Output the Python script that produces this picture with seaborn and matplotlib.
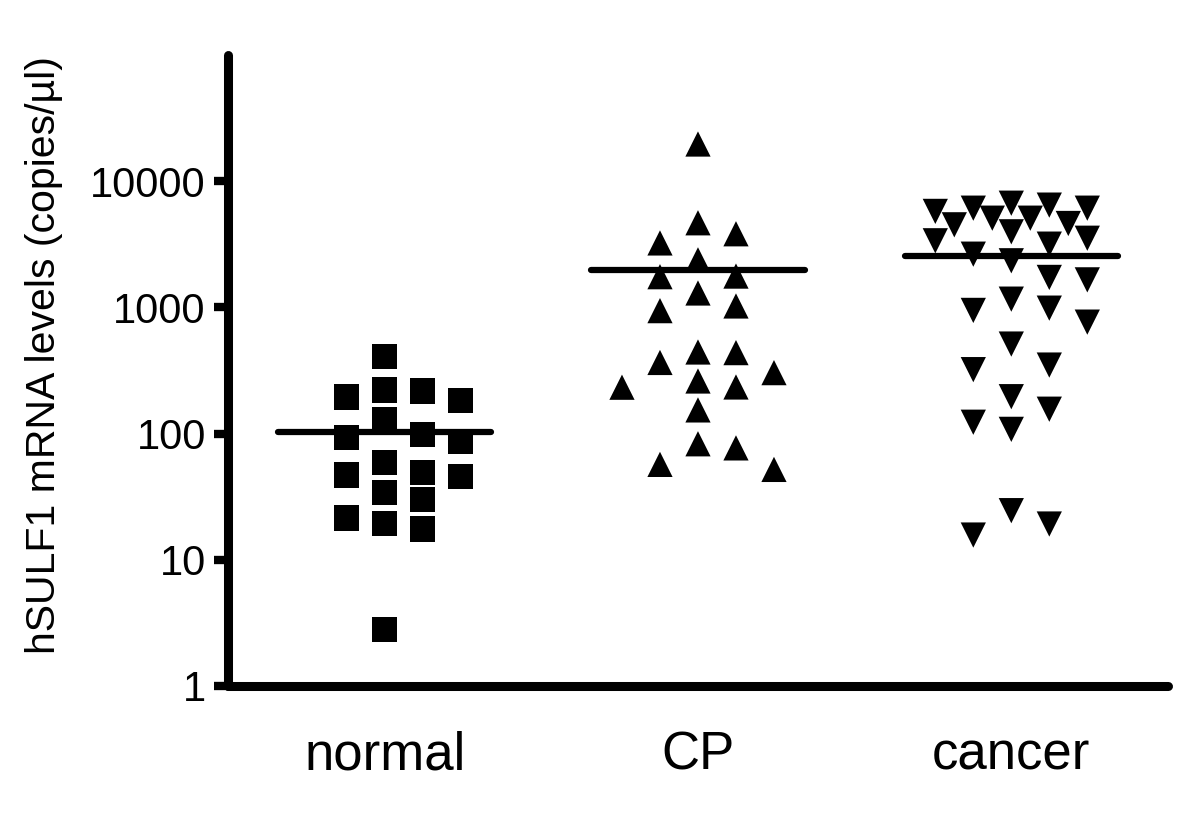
import matplotlib
matplotlib.use("Agg")
import matplotlib.pyplot as plt
from matplotlib.ticker import FixedLocator, NullLocator
import numpy as np
import pandas as pd
import seaborn as sns

# values (copies/ul)
groups = ["normal", "CP", "cancer"]
normal_vals = [407, 221, 217, 195, 182, 130, 99, 93, 87, 59, 49, 47, 46,
               34, 30, 21.4, 19.4, 17.5, 2.8]
cp_vals = [19700, 4680, 3830, 3240, 2380, 1770, 1750, 1300, 1026, 942,
           443, 438, 366, 304, 261, 234, 233, 154, 83, 77, 57, 52]
cancer_vals = [6690, 6460, 6110, 6110, 5760, 5090, 5090, 4620, 4510, 3970,
               3530, 3370, 3170, 2640, 2340, 1727, 1652, 1162, 986, 946,
               764, 512, 349, 321, 196, 156, 123, 108, 24.5, 19.2, 15.7]
y_ticks = [1, 10, 100, 1000, 10000]
y_tick_labels = ["1", "10", "100", "1000", "10000"]
y_label = "hSULF1 mRNA levels (copies/µl)"

sns.set_style("ticks")
plt.rcParams["font.family"] = ["Liberation Sans", "DejaVu Sans"]
for key in ["text.color", "axes.labelcolor", "xtick.color", "ytick.color", "axes.edgecolor"]:
    plt.rcParams[key] = "black"

fig = plt.figure(figsize=(12, 8.18), dpi=100)
ax = fig.add_axes([0.19, 0.1614, 0.7833, 0.7714])
ax.set_yscale("log")
ax.set_xlim(-0.5, 2.5)
ax.set_ylim(1, 1e5)


def spread(vals, centre, size_px=26, step_px=19):
    # Prism-like column layout: top value first, each point takes the
    # slot around the centre that overlaps the least with earlier points
    slots = [0, 2, -2, 4, -4, 1, -1, 3, -3]
    cx = ax.transData.transform((centre, 1))[0]
    pts = np.column_stack([np.full(len(vals), centre), vals])
    ys = ax.transData.transform(pts)[:, 1]
    placed = []
    xs = np.empty(len(vals))
    for i in np.argsort(ys)[::-1]:
        best, best_cost = 0, None
        for s in slots:
            px = cx + s * step_px
            cost = sum(max(0, size_px - abs(px - qx)) * max(0, size_px - abs(ys[i] - qy))
                       for qx, qy in placed)
            if best_cost is None or cost < best_cost:
                best, best_cost = s, cost
        px = cx + best * step_px
        placed.append((px, ys[i]))
        xs[i] = ax.transData.inverted().transform((px, ys[i]))[0]
    return xs


frames = []
for i, (g, vals) in enumerate(zip(groups, [normal_vals, cp_vals, cancer_vals])):
    frames.append(pd.DataFrame({"group": g, "value": vals, "x": spread(vals, i)}))
df = pd.concat(frames, ignore_index=True)

sns.scatterplot(data=df, x="x", y="value", style="group",
                markers={"normal": "s", "CP": "^", "cancer": "v"},
                color="black", s=330, linewidth=0, legend=False, ax=ax)

# group means as horizontal bars
means = df.groupby("group", sort=False)["value"].mean()
for i, g in enumerate(groups):
    ax.plot([i - 0.34, i + 0.34], [means[g]] * 2, color="black", lw=4.5,
            solid_capstyle="round")

ax.set_xlim(-0.5, 2.5)
ax.set_ylim(1, 1e5)
ax.set_xticks(range(len(groups)))
ax.set_xticklabels(groups)
ax.yaxis.set_major_locator(FixedLocator(y_ticks))
ax.yaxis.set_minor_locator(NullLocator())
ax.set_yticklabels(y_tick_labels)
ax.set_xlabel("")
ax.set_ylabel(y_label, fontsize=29.5)
ax.yaxis.set_label_coords(-0.176, 0.525)

sns.despine(ax=ax)
for side in ["left", "bottom"]:
    ax.spines[side].set_linewidth(6.5)
    ax.spines[side].set_capstyle("round")
ax.tick_params(axis="y", length=10, width=6, labelsize=30, pad=6)
ax.tick_params(axis="x", length=0, labelsize=38, pad=32)

fig.savefig("out.png", dpi=100)
